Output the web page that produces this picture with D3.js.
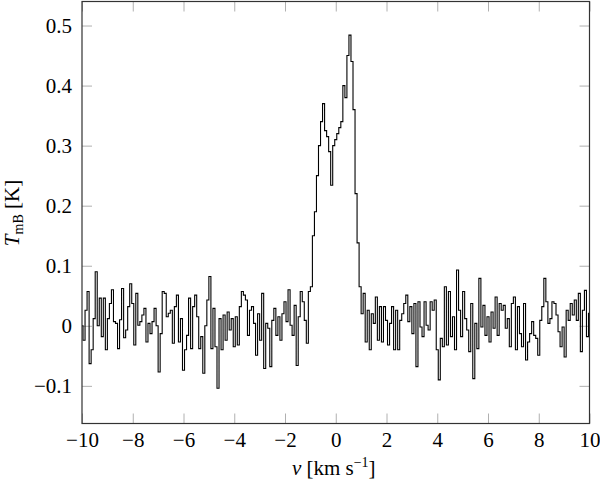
<!DOCTYPE html>
<html>
<head>
<meta charset="utf-8">
<script src="https://cdn.jsdelivr.net/npm/d3@7"></script>
<style>
  html, body { margin: 0; padding: 0; background: #fff; }
  svg { display: block; }
</style>
</head>
<body>
<svg id="chart" width="600" height="483"></svg>
<script>
// Channel width of the spectrum (km/s)
const channelWidth = 0.08;

// Segment A: baseline noise, starting at -10 km/s
const startA = -10.0;
const tmbA = [0, -0.024, 0.026, 0.057, -0.063, -0.04, 0.012, 0.09, 0, 0.046,
  -0.018, 0.046, -0.04, 0.012, 0.037, 0.06, 0.007, 0.004, -0.038, 0.01,
  0.062, -0.02, -0.007, 0.032, 0.07, 0.037, -0.032, 0.054, 0.001, 0.007,
  0.018, 0.029, -0.027, 0.004, -0.013, 0.007, 0.029, 0, -0.077, -0.013,
  0.057, 0.054, 0.015, 0.021, 0.026, -0.029, 0.032, 0.051, -0.027, 0.012,
  -0.074, -0.04, -0.016, 0.046, -0.038, 0.032, 0.051, 0.015, -0.038, -0.018,
  -0.079, 0, 0.043, 0.082, -0.038, 0.029, -0.035, -0.104, 0.012, -0.04,
  0.018, -0.024, 0.023, -0.007, 0.012, -0.035, 0.015, -0.032, 0.032, 0.057,
  0.051, 0.043, -0.016, 0.026, 0.032];

// Segment B: noise before the line
const startB = -3.20;
const tmbB = [0.004, -0.049, 0.02, -0.024, 0.054, -0.071, 0.004, -0.004, -0.068, 0.009,
  0.029, -0.016, 0.015, -0.024, 0.02, 0.04, 0.007, 0.06, 0.001, -0.016,
  0.034, -0.066, 0.015, 0.057, 0.04, 0.009, -0.029, 0.057, 0.065];

// Segment C: the emission line
const startC = -0.88;
const tmbC = [0.15, 0.19, 0.25, 0.30, 0.34, 0.37, 0.325, 0.315, 0.29, 0.234,
  0.30, 0.31, 0.32, 0.33, 0.34, 0.40, 0.38, 0.45, 0.484, 0.44,
  0.36, 0.22, 0.138, 0.065, 0.02];

// Segment D: noise after the line
const startD = 1.12;
const tmbD = [0.054, -0.027, 0.026, -0.04, 0.02, 0.004, 0.048, -0.024, 0.032, -0.027,
  0.032, 0.009, -0.032, 0.004, 0.032, -0.04, 0.026, -0.04, 0.009, 0.02,
  0.037, 0.051, 0.007, 0.032, -0.013, 0.037, -0.068, 0.04];

// Segment E: noise to +10 km/s
const startE = 3.36;
const tmbE = [-0.002, -0.018, 0.04, 0.001, -0.007, 0.04, 0.026, 0.043, -0.04, -0.09,
  -0.021, -0.035, 0.065, -0.032, 0.057, -0.018, 0.015, -0.04, 0.093, 0.026,
  -0.018, 0.057, 0.012, -0.007, -0.043, 0.037, -0.088, 0.004, -0.038, 0.079,
  -0.002, 0.034, -0.016, 0.015, -0.027, 0.023, -0.004, 0.048, -0.016, 0.037,
  0.026, 0.034, -0.004, 0.012, -0.035, 0.037, 0.048, -0.04, 0.032, -0.013,
  -0.035, 0.037, -0.057, -0.027, -0.013, 0.007, -0.016, -0.021, -0.049, 0.009,
  0.032, 0.079, 0.04, 0.004, 0.012, 0.04, 0.037, 0.018, -0.01, -0.035,
  -0.002, -0.052, 0.026, 0.009, 0.037, 0.018, 0.043, 0.009, 0.054, -0.043,
  0.026, 0.059, -0.018, 0.021];

const xTicks = [-10, -8, -6, -4, -2, 0, 2, 4, 6, 8, 10];
const yTicks = [-0.1, 0, 0.1, 0.2, 0.3, 0.4, 0.5];
const xDomain = [-10, 10];
const yDomain = [-0.1627, 0.540];

// Build the spectrum points
const segments = [[startA, tmbA], [startB, tmbB], [startC, tmbC], [startD, tmbD], [startE, tmbE]];
const spectrum = [];
segments.forEach(([s, vals]) => vals.forEach((t, i) => spectrum.push({v: s + i * channelWidth, t})));

const FONT = "Liberation Serif";
const FS = 21;
const svg = d3.select("#chart");
const pL = 82, pR = 589.5, pT = 1.5, pB = 423.5;

const x = d3.scaleLinear().domain(xDomain).range([pL, pR]);
const y = d3.scaleLinear().domain(yDomain).range([pB, pT]);

svg.append("defs").append("clipPath").attr("id", "clip")
  .append("rect").attr("x", pL).attr("y", pT).attr("width", pR - pL).attr("height", pB - pT);

const tickLen = 10;
const tickColor = "#b0b0b0";
const fmtX = d => d < 0 ? "\u2212" + Math.abs(d) : String(d);
const fmtY = d => {
  const s = String(+Math.abs(d).toFixed(1));
  return d < 0 ? "\u2212" + s : s;
};

// Bottom axis
const gx = svg.append("g").attr("transform", `translate(0,${pB})`)
  .call(d3.axisBottom(x).tickValues(xTicks).tickSizeInner(-tickLen).tickSizeOuter(0)
    .tickPadding(0).tickFormat(fmtX));
gx.select(".domain").remove();
gx.selectAll(".tick line").attr("stroke", tickColor).attr("stroke-width", 1);
gx.selectAll(".tick text").attr("dy", null).attr("y", 23.5).attr("fill", "#000")
  .attr("font-family", FONT).attr("font-size", FS);

// Top axis ticks (no labels)
const gxt = svg.append("g").attr("transform", `translate(0,${pT})`)
  .call(d3.axisTop(x).tickValues(xTicks).tickSizeInner(-tickLen).tickSizeOuter(0).tickFormat(""));
gxt.select(".domain").remove();
gxt.selectAll(".tick line").attr("stroke", tickColor);

// Left axis
const gy = svg.append("g").attr("transform", `translate(${pL},0)`)
  .call(d3.axisLeft(y).tickValues(yTicks).tickSizeInner(-tickLen).tickSizeOuter(0)
    .tickPadding(10).tickFormat(fmtY));
gy.select(".domain").remove();
gy.selectAll(".tick line").attr("stroke", tickColor);
gy.selectAll(".tick text").attr("x", -10).attr("dy", "0.34em").attr("fill", "#000")
  .attr("font-family", FONT).attr("font-size", FS);

// Right axis ticks
const gyr = svg.append("g").attr("transform", `translate(${pR},0)`)
  .call(d3.axisRight(y).tickValues(yTicks).tickSizeInner(-tickLen).tickSizeOuter(0).tickFormat(""));
gyr.select(".domain").remove();
gyr.selectAll(".tick line").attr("stroke", tickColor);

// Spectrum line
const line = d3.line().x(d => x(d.v)).y(d => y(d.t)).curve(d3.curveStep);
svg.append("path").datum(spectrum)
  .attr("clip-path", "url(#clip)")
  .attr("fill", "none").attr("stroke", "#000").attr("stroke-width", 1.1)
  .attr("d", line);

// Frame
svg.append("rect").attr("x", pL).attr("y", pT).attr("width", pR - pL).attr("height", pB - pT)
  .attr("fill", "none").attr("stroke", "#333").attr("stroke-width", 1.2);

// X axis title
const xt = svg.append("text").attr("x", (pL + pR) / 2 - 2).attr("y", 475)
  .attr("text-anchor", "middle").attr("font-size", FS).attr("font-family", FONT).attr("fill", "#000");
xt.append("tspan").attr("font-style", "italic").text("v");
xt.append("tspan").text(" [km s");
xt.append("tspan").attr("font-size", 14).attr("dy", -8).text("\u22121");
xt.append("tspan").attr("dy", 8).text("]");

// Y axis title
const yt = svg.append("text").attr("transform", `translate(19,${213}) rotate(-90)`)
  .attr("text-anchor", "middle").attr("font-size", FS).attr("font-family", FONT).attr("fill", "#000");
yt.append("tspan").attr("font-style", "italic").text("T");
yt.append("tspan").attr("font-size", 14).attr("dy", 4).text("mB");
yt.append("tspan").attr("dy", -4).text(" [K]");
</script>
</body>
</html>
